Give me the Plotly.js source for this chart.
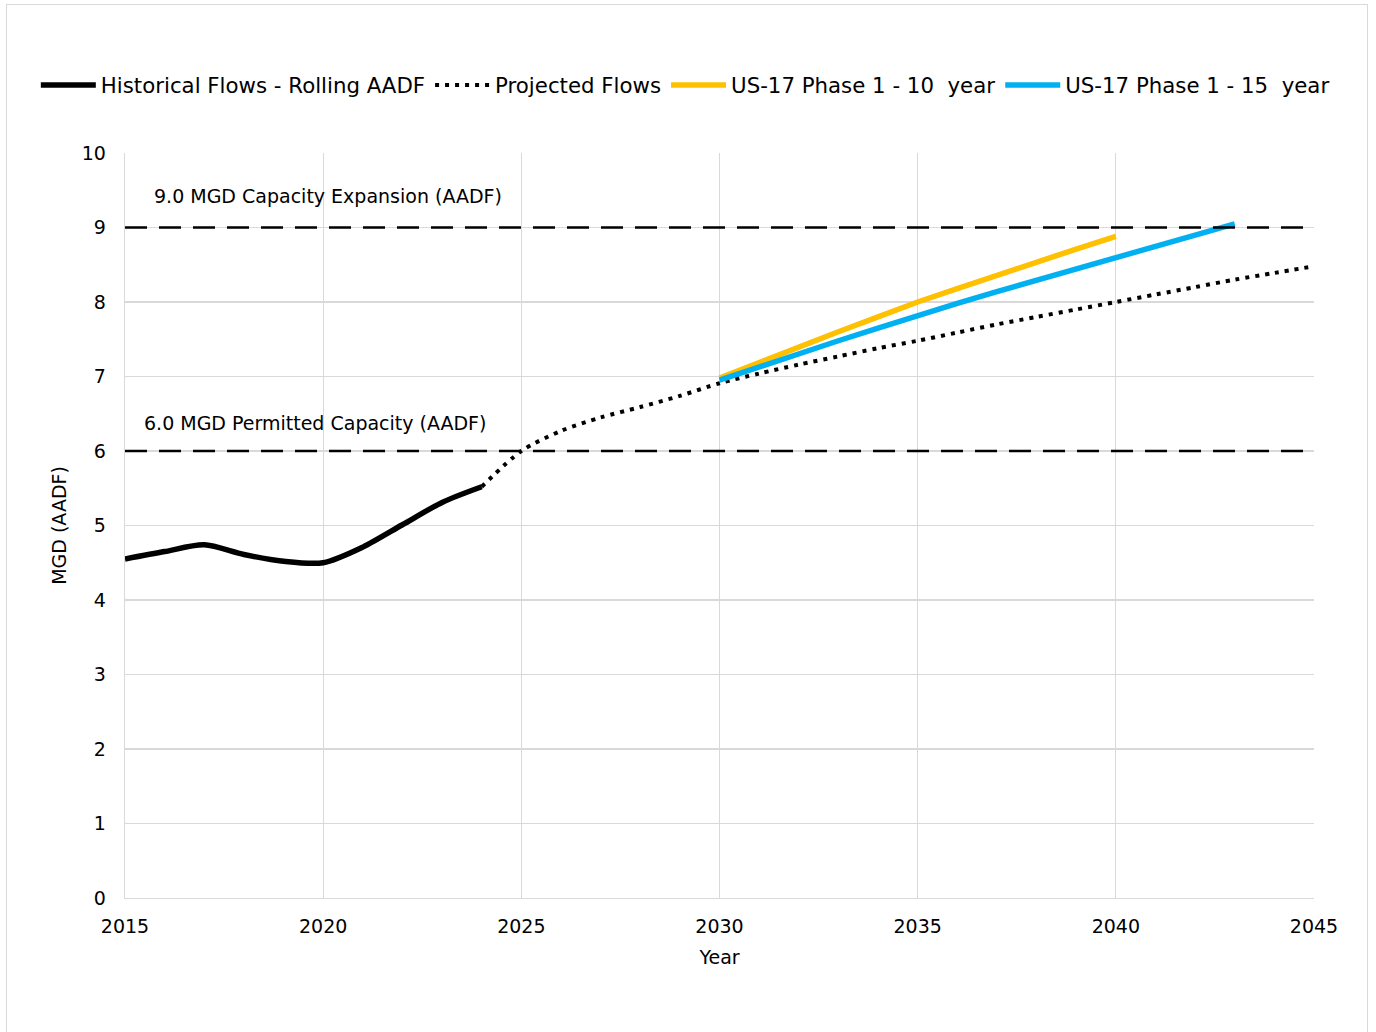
<!DOCTYPE html>
<html>
<head>
<meta charset="utf-8">
<script src="https://cdn.plot.ly/plotly-3.0.1.min.js"></script>
<style>
  html, body { margin: 0; padding: 0; background: #fff; width: 1376px; height: 1032px; overflow: hidden; }
  #frame { position: absolute; left: 6px; top: 4px; width: 1360px; height: 1040px; border: 1px solid #d9d9d9; }
  #chart { width: 1360px; height: 1040px; }
</style>
</head>
<body>
<div id="frame"><div id="chart"></div></div>
<script>
// ---- data ----
const histYears = [2015, 2016, 2017, 2018, 2019, 2020, 2021, 2022, 2023, 2024];
const histFlows = [4.55, 4.65, 4.74, 4.61, 4.52, 4.50, 4.71, 5.01, 5.31, 5.52];

const projYears = [2024, 2025, 2026, 2027, 2028, 2029, 2030, 2031, 2032, 2033, 2034, 2035,
                   2036, 2037, 2038, 2039, 2040, 2041, 2042, 2043, 2044, 2045];
const projFlows = [5.52, 6.00, 6.27, 6.45, 6.59, 6.74, 6.91, 7.04, 7.16, 7.27, 7.38, 7.48,
                   7.59, 7.70, 7.80, 7.90, 8.00, 8.10, 8.20, 8.30, 8.39, 8.48];

const us10Years = [2030, 2031, 2032, 2033, 2034, 2035, 2036, 2037, 2038, 2039, 2040];
const us10Flows = [6.98, 7.19, 7.40, 7.60, 7.80, 8.00, 8.18, 8.36, 8.53, 8.71, 8.88];

const us15Years = [2030, 2031, 2032, 2033, 2034, 2035, 2036, 2037, 2038, 2039, 2040, 2041, 2042, 2043];
const us15Flows = [6.95, 7.13, 7.30, 7.48, 7.65, 7.82, 7.98, 8.14, 8.29, 8.45, 8.60, 8.75, 8.90, 9.05];

const seriesNames = ['Historical Flows - Rolling AADF', 'Projected Flows',
                     'US-17 Phase 1 - 10  year', 'US-17 Phase 1 - 15  year'];

const capacityLevels = [6, 9];
const capacityLabels = ['6.0 MGD Permitted Capacity (AADF)', '9.0 MGD Capacity Expansion (AADF)'];
const xRange = [2015, 2045];
const yRange = [0, 10];

// ---- chart ----
const FONT = 'DejaVu Sans, Verdana, sans-serif';
const FS = 19;
const LFS = 21.3;

const traces = [
  { x: histYears, y: histFlows, name: seriesNames[0], mode: 'lines',
    line: { color: '#000000', width: 5.5, shape: 'spline', smoothing: 0.8 } },
  { x: projYears, y: projFlows, name: seriesNames[1], mode: 'lines',
    line: { color: '#000000', width: 4, dash: '4px,6px', shape: 'spline', smoothing: 0.8 } },
  { x: us10Years, y: us10Flows, name: seriesNames[2], mode: 'lines',
    line: { color: '#FFC000', width: 5.5 } },
  { x: us15Years, y: us15Flows, name: seriesNames[3], mode: 'lines',
    line: { color: '#00B0F0', width: 5.5 } }
];

const shapes = capacityLevels.map(v => ({
  type: 'line', xref: 'paper', x0: 0, x1: 1, yref: 'y', y0: v, y1: v,
  line: { color: '#000000', width: 2.5, dash: '22px,12px' }, layer: 'above'
}));

const annotations = [
  { text: capacityLabels[1], x: 2015.68, y: 9.42, xref: 'x', yref: 'y',
    xanchor: 'left', yanchor: 'middle', showarrow: false, font: { size: FS, color: '#000' } },
  { text: capacityLabels[0], x: 2015.43, y: 6.37, xref: 'x', yref: 'y',
    xanchor: 'left', yanchor: 'middle', showarrow: false, font: { size: FS, color: '#000' } }
];

const layout = {
  width: 1360, height: 1040,
  margin: { l: 118, r: 53, t: 148, b: 147 },
  paper_bgcolor: '#ffffff', plot_bgcolor: '#ffffff',
  font: { family: FONT, size: FS, color: '#000000' },
  showlegend: true,
  legend: { orientation: 'h', x: -0.075, xanchor: 'left', y: 1.091, yanchor: 'middle',
            font: { size: LFS, color: '#000' }, itemwidth: 55, tracegroupgap: 0,
            bgcolor: 'rgba(0,0,0,0)' },
  xaxis: {
    range: xRange, dtick: 5, tick0: 2015, showgrid: true, gridcolor: '#d9d9d9', gridwidth: 1.3,
    zeroline: false, showline: true, linecolor: '#d9d9d9', linewidth: 1.3,
    ticks: '', ticklabelstandoff: 11, tickfont: { size: FS },
    title: { text: 'Year', font: { size: FS }, standoff: 14 }
  },
  yaxis: {
    range: yRange, dtick: 1, tick0: 0, showgrid: true, gridcolor: '#d9d9d9', gridwidth: 1.3,
    zeroline: false, showline: true, linecolor: '#d9d9d9', linewidth: 1.3,
    ticks: '', ticklabelstandoff: 14, tickfont: { size: FS },
    title: { text: 'MGD (AADF)', font: { size: FS }, standoff: 10 }
  },
  shapes: shapes,
  annotations: annotations
};

Plotly.newPlot('chart', traces, layout, { displayModeBar: false, staticPlot: true });
</script>
</body>
</html>
